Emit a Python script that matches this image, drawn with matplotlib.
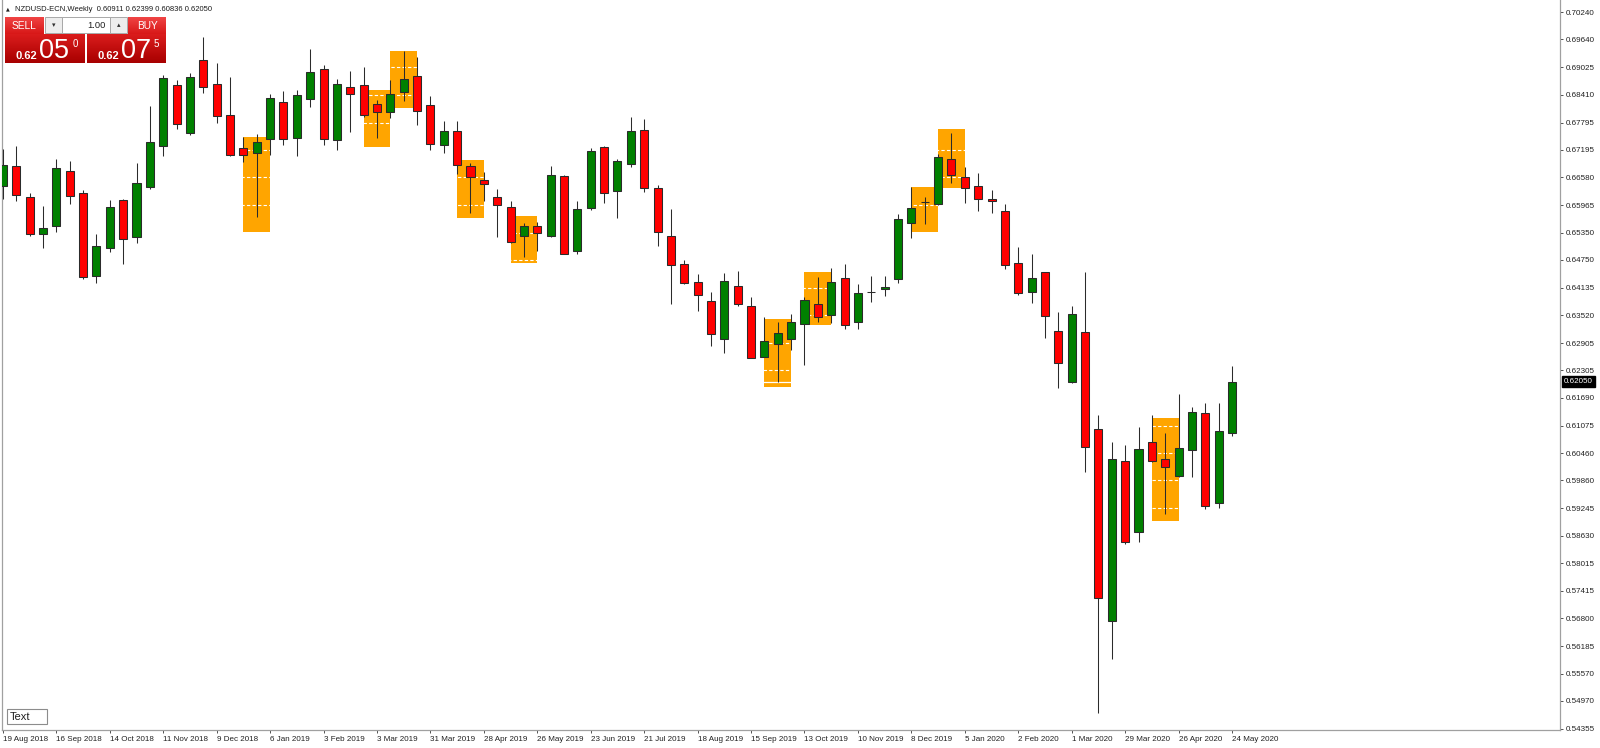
import numpy as np
import matplotlib.pyplot as plt
from matplotlib.patches import Rectangle
from matplotlib.colors import LinearSegmentedColormap
from matplotlib.transforms import blended_transform_factory

plt.rcParams['font.family'] = ['Liberation Sans', 'DejaVu Sans']

# NZDUSD weekly candles, 19 Aug 2018 .. 24 May 2020 (93 weeks)
opens = [0.66394, 0.66838, 0.66137, 0.65323, 0.65507, 0.66714, 0.66226, 0.64398, 0.65006, 0.66084,
         0.65250, 0.66372, 0.67264, 0.68634, 0.67574, 0.69182, 0.68650, 0.67973, 0.67224, 0.67113,
         0.67423, 0.68244, 0.67459, 0.68317, 0.68976, 0.67401, 0.68577, 0.68621, 0.68206, 0.68024,
         0.68472, 0.68821, 0.68189, 0.67308, 0.67601, 0.66827, 0.66521, 0.66137, 0.65928, 0.65285,
         0.65507, 0.65285, 0.66603, 0.64952, 0.65893, 0.67246, 0.66266, 0.66882, 0.67636, 0.66336,
         0.65272, 0.64657, 0.64265, 0.63841, 0.62994, 0.64176, 0.63731, 0.62601, 0.62876, 0.63001,
         0.63327, 0.63770, 0.63526, 0.64340, 0.63378, 0.64030, 0.64103, 0.64318, 0.65560, 0.66026,
         0.65988, 0.66986, 0.66581, 0.66394, 0.66099, 0.65840, 0.64673, 0.64030, 0.64473, 0.63171,
         0.62047, 0.63156, 0.60998, 0.56739, 0.60295, 0.58713, 0.60703, 0.60339, 0.59962, 0.60532,
         0.61346, 0.59363, 0.60911]
highs = [0.67208, 0.67275, 0.66226, 0.65951, 0.66986, 0.66949, 0.66299, 0.65323, 0.66077, 0.66106,
         0.66898, 0.68162, 0.68849, 0.68739, 0.68887, 0.69692, 0.69122, 0.68812, 0.67481, 0.67534,
         0.68428, 0.68488, 0.68517, 0.69420, 0.69071, 0.68754, 0.68938, 0.69034, 0.68295, 0.68739,
         0.69388, 0.69255, 0.68384, 0.67829, 0.67834, 0.66904, 0.66698, 0.66314, 0.66055, 0.65574,
         0.65596, 0.66831, 0.66631, 0.66055, 0.67235, 0.67275, 0.66986, 0.67925, 0.67874, 0.66410,
         0.65877, 0.64746, 0.64429, 0.64043, 0.64451, 0.64509, 0.63919, 0.63489, 0.63371, 0.63544,
         0.63932, 0.64376, 0.64562, 0.64657, 0.64207, 0.64391, 0.64391, 0.65766, 0.66359, 0.66137,
         0.67097, 0.67570, 0.66816, 0.66669, 0.66299, 0.65982, 0.65041, 0.64879, 0.64480, 0.63586,
         0.63733, 0.64487, 0.61308, 0.60703, 0.60643, 0.61036, 0.61308, 0.60916, 0.61774, 0.61492,
         0.61568, 0.61581, 0.62399]
lows = [0.66099, 0.66061, 0.65285, 0.65006, 0.65374, 0.65982, 0.64318, 0.64243, 0.64930, 0.64651,
        0.65130, 0.66314, 0.67060, 0.67652, 0.67519, 0.68444, 0.67778, 0.67053, 0.66926, 0.65707,
        0.67075, 0.67286, 0.67060, 0.68146, 0.67308, 0.67186, 0.67579, 0.67925, 0.67446, 0.67896,
        0.68279, 0.67740, 0.67186, 0.67126, 0.66654, 0.65795, 0.66066, 0.65263, 0.65130, 0.64819,
        0.64952, 0.65256, 0.64873, 0.64879, 0.65855, 0.66017, 0.65671, 0.66816, 0.66254, 0.65063,
        0.63777, 0.64207, 0.63615, 0.62839, 0.62690, 0.63733, 0.62566, 0.62584, 0.62034, 0.62750,
        0.62417, 0.63371, 0.63342, 0.63216, 0.63216, 0.63821, 0.63954, 0.64243, 0.65228, 0.65538,
        0.65966, 0.66447, 0.66004, 0.65833, 0.65795, 0.64540, 0.63981, 0.63786, 0.63023, 0.61914,
        0.62025, 0.60051, 0.54692, 0.55896, 0.58440, 0.58498, 0.60266, 0.59106, 0.59940, 0.59940,
        0.59217, 0.59252, 0.60836]
closes = [0.66853, 0.66195, 0.65323, 0.65449, 0.66780, 0.66159, 0.64363, 0.65057, 0.65915, 0.65212,
          0.66447, 0.67357, 0.68776, 0.67756, 0.68798, 0.68583, 0.67940, 0.67068, 0.67068, 0.67357,
          0.68346, 0.67423, 0.68399, 0.68909, 0.67423, 0.68639, 0.68421, 0.67973, 0.68024, 0.68428,
          0.68754, 0.68062, 0.67326, 0.67601, 0.66860, 0.66581, 0.66432, 0.65973, 0.65152, 0.65507,
          0.65338, 0.66631, 0.64886, 0.65877, 0.67170, 0.66226, 0.66949, 0.67601, 0.66343, 0.65361,
          0.64642, 0.64243, 0.63959, 0.63100, 0.64285, 0.63770, 0.62579, 0.62950, 0.63138, 0.63378,
          0.63859, 0.63489, 0.64265, 0.63304, 0.64008, 0.64030, 0.64147, 0.65656, 0.65893, 0.66026,
          0.67024, 0.66631, 0.66336, 0.66099, 0.66061, 0.64635, 0.64008, 0.64340, 0.63511, 0.62468,
          0.63542, 0.60592, 0.57256, 0.60339, 0.58491, 0.60548, 0.60288, 0.60148, 0.60583, 0.61368,
          0.59297, 0.60947, 0.62050]

# orange pattern boxes: middle candle, top and bottom price
box_mid = [19, 28, 30, 35, 39, 58, 61, 69, 71, 87]
box_top = [0.67481, 0.68517, 0.69382, 0.66964, 0.65722, 0.63438, 0.64473, 0.66359, 0.67652, 0.61235]
box_bottom = [0.65361, 0.67246, 0.68111, 0.65684, 0.64686, 0.61936, 0.63304, 0.65374, 0.66350, 0.58964]

date_labels = ['19 Aug 2018', '16 Sep 2018', '14 Oct 2018', '11 Nov 2018', '9 Dec 2018', '6 Jan 2019',
               '3 Feb 2019', '3 Mar 2019', '31 Mar 2019', '28 Apr 2019', '26 May 2019', '23 Jun 2019',
               '21 Jul 2019', '18 Aug 2019', '15 Sep 2019', '13 Oct 2019', '10 Nov 2019', '8 Dec 2019',
               '5 Jan 2020', '2 Feb 2020', '1 Mar 2020', '29 Mar 2020', '26 Apr 2020', '24 May 2020']
price_ticks = [0.70240, 0.69640, 0.69025, 0.68410, 0.67795, 0.67195, 0.66580, 0.65965, 0.65350,
               0.64750, 0.64135, 0.63520, 0.62905, 0.62305, 0.61690, 0.61075, 0.60460, 0.59860,
               0.59245, 0.58630, 0.58015, 0.57415, 0.56800, 0.56185, 0.55570, 0.54970, 0.54355]

W, H = 1600, 748
fig = plt.figure(figsize=(16, 7.48), dpi=100)
fig.patch.set_facecolor('white')

# chart area in pixels
left_px, right_px, bottom_px = 1.7, 1560, 730
ax = fig.add_axes([left_px / W, (H - bottom_px) / H, (right_px - left_px) / W, bottom_px / H])
step, first_px = 13.36, 2.9
ax.set_xlim((left_px - first_px) / step, (right_px - first_px) / step)
ax.set_ylim(0.54322, 0.70513)

n = len(opens)
x = np.arange(n)
o = np.array(opens)
c = np.array(closes)

# orange boxes, then white grid (only visible on orange), then candles
for m, t, b in zip(box_mid, box_top, box_bottom):
    ax.add_patch(Rectangle((m - 1, b), 2, t - b, fc='#FFA500', ec='none', zorder=1))
for v in price_ticks:
    ax.axhline(v, color='white', lw=0.8, ls=(0, (3, 2)), zorder=2)
ax.axhline(closes[-1], color='white', lw=0.9, zorder=2)

edge = '#2b2b2b'
ax.vlines(x, lows, highs, color=edge, lw=0.75, zorder=3)
body_col = np.where(c >= o, '#008000', '#FF0000')
ax.bar(x, np.abs(c - o), bottom=np.minimum(o, c), width=0.6, color=body_col,
       edgecolor=edge, linewidth=0.75, zorder=4)

# axes styling
for s in ['left', 'right', 'bottom']:
    ax.spines[s].set_color('#a0a0a0')
    ax.spines[s].set_linewidth(0.9)
ax.spines['top'].set_visible(False)

ax.set_xticks(range(0, n, 4), date_labels)
for lab in ax.get_xticklabels():
    lab.set_horizontalalignment('left')
ax.tick_params(axis='x', direction='out', length=2.5, width=0.7, color='#505050',
               labelcolor='#202020', labelsize=5.8, pad=1.5)
ax.yaxis.tick_right()
ax.set_yticks(price_ticks, [f'{v:.5f}' for v in price_ticks])
ax.tick_params(axis='y', direction='out', length=2.5, width=0.7, color='#505050',
               labelcolor='#202020', labelsize=5.8, pad=1.5)

# current price marker
ax.text(1.0025, closes[-1], f'{closes[-1]:.5f}', transform=blended_transform_factory(ax.transAxes, ax.transData),
        ha='left', va='center', fontsize=5.8, color='white',
        bbox=dict(boxstyle='square,pad=0.25', fc='black', ec='black'), zorder=10)

# overlay in pixel coordinates for the one-click panel and labels
ui = fig.add_axes([0, 0, 1, 1], zorder=5)
ui.axis('off')


def grad_rect(x0, y0, x1, y1, c0, c1):
    cmap = LinearSegmentedColormap.from_list('g', [c0, c1])
    ui.imshow(np.linspace(0, 1, 32).reshape(-1, 1), cmap=cmap, extent=(x0, x1, y1, y0),
              aspect='auto', interpolation='bilinear', zorder=2)


# header line
ui.text(7.5, 9.0, '▲', fontsize=3.5, family='DejaVu Sans', ha='center', va='center', color='#202020')
ui.text(15, 9.3, 'NZDUSD-ECN,Weekly  0.60911 0.62399 0.60836 0.62050', fontsize=5.5,
        ha='left', va='center', color='#1a1a1a')

# sell / buy buttons
grad_rect(5, 17.3, 43.3, 34.3, '#F04444', '#D81818')
grad_rect(128.3, 17.3, 165.7, 34.3, '#F04444', '#D81818')
ui.text(24.2, 26, 'SELL', fontsize=7.3, color='white', ha='center', va='center')
ui.text(147, 26, 'BUY', fontsize=7.3, color='white', ha='center', va='center')

# lot size control
ui.add_patch(Rectangle((45, 17.3), 16.7, 16, fc='#EDEDED', ec='#A8A8A8', lw=0.7, zorder=2))
ui.add_patch(Rectangle((61.7, 17.3), 48.3, 16, fc='white', ec='#A8A8A8', lw=0.7, zorder=2))
ui.add_patch(Rectangle((110, 17.3), 16.7, 16, fc='#EDEDED', ec='#A8A8A8', lw=0.7, zorder=2))
ui.text(53.3, 25.5, '▾', fontsize=5, family='DejaVu Sans', ha='center', va='center', color='#303030')
ui.text(118.3, 25.5, '▴', fontsize=5, family='DejaVu Sans', ha='center', va='center', color='#303030')
ui.text(106, 25.6, '1.00', fontsize=6.7, ha='right', va='center', color='#202020')

# price boxes
grad_rect(5, 34.8, 85, 63.3, '#DA1C1C', '#A80000')
grad_rect(86.7, 34.8, 165.7, 63.3, '#DA1C1C', '#A80000')
ui.text(15.5, 59.3, '0.62', fontsize=8, weight='bold', color='white', ha='left', va='baseline')
ui.text(39.5, 58.3, '05', fontsize=19.5, color='white', ha='left', va='baseline')
ui.text(72.5, 46.7, '0', fontsize=7, color='white', ha='left', va='baseline')
ui.text(97.5, 59.3, '0.62', fontsize=8, weight='bold', color='white', ha='left', va='baseline')
ui.text(121.2, 58.3, '07', fontsize=19.5, color='white', ha='left', va='baseline')
ui.text(154, 46.7, '5', fontsize=7, color='white', ha='left', va='baseline')

# "Text" label object
ui.add_patch(Rectangle((7, 709), 40, 15, fc='white', ec='#8c8c8c', lw=0.8, zorder=2))
ui.text(9.5, 716.8, 'Text', fontsize=8, ha='left', va='center', color='#202020')

ui.set_xlim(0, W)
ui.set_ylim(H, 0)

plt.savefig('out.png', dpi=100)
plt.close()
